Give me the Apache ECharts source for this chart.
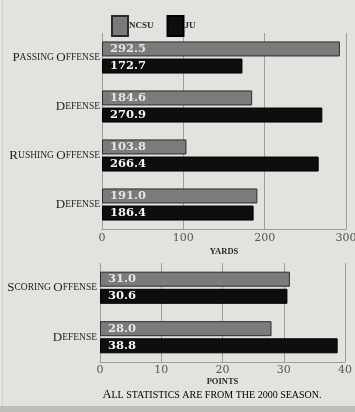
<!DOCTYPE html>
<html>
<head>
<meta charset="utf-8">
<script src="https://cdn.jsdelivr.net/npm/echarts@6/dist/echarts.min.js"></script>
<style>
  html, body { margin: 0; padding: 0; background: #e3e2de; }
  #chart { width: 355px; height: 412px; }
</style>
</head>
<body>
<div id="chart"></div>
<script>
// Team statistics, 2000 season
const teams = ['NCSU', 'JU'];

const yardCategories = ['Passing Offense', 'Defense', 'Rushing Offense', 'Defense'];
const yardsNCSU = [292.5, 184.6, 103.8, 191.0];
const yardsJU = [172.7, 270.9, 266.4, 186.4];
const yardTicks = [0, 100, 200, 300];

const pointCategories = ['Scoring Offense', 'Defense'];
const pointsNCSU = [31.0, 28.0];
const pointsJU = [30.6, 38.8];
const pointTicks = [0, 10, 20, 30, 40];

const footnote = 'All statistics are from the 2000 season.';

const SERIF = '"Liberation Serif", "DejaVu Serif", serif';
const WIDE_SERIF = '"DejaVu Serif", "Liberation Serif", serif';
const ncsuColor = '#7b7b7b';
const juColor = '#0e0e0e';
const gridColor = '#9e9d9a';

// Small-caps rendering: word initials large, remaining letters smaller capitals
function smallCaps(text) {
  return text.split(' ').map(function (w) {
    const head = w.charAt(0);
    const tail = w.slice(1);
    let out = '';
    if (/[A-Z]/.test(head)) out += '{big|' + head + '}';
    else out += '{sm|' + head.toUpperCase() + '}';
    if (tail) out += '{sm|' + tail.toUpperCase() + '}';
    return out;
  }).join('{sm| }');
}

const capRich = {
  big: { fontFamily: SERIF, fontSize: 13, color: '#1e1e1e' },
  sm: { fontFamily: SERIF, fontSize: 9.5, color: '#1e1e1e' }
};

const noteRich = {
  big: { fontFamily: SERIF, fontSize: 12.5, color: '#1e1e1e' },
  sm: { fontFamily: SERIF, fontSize: 10, color: '#1e1e1e' }
};

function valueLabel(color) {
  return {
    show: true,
    position: 'insideLeft',
    distance: 8,
    fontFamily: WIDE_SERIF,
    fontSize: 11.5,
    fontWeight: 'bold',
    color: color,
    formatter: function (p) { return p.value.toFixed(1); }
  };
}

function xAxisFor(gridIndex, ticks, name, nameGap, labelMargin) {
  return {
    type: 'value',
    gridIndex: gridIndex,
    min: ticks[0],
    max: ticks[ticks.length - 1],
    interval: ticks[1] - ticks[0],
    name: name,
    nameLocation: 'middle',
    nameGap: nameGap,
    nameTextStyle: { fontFamily: SERIF, fontSize: 8.5, fontWeight: 'bold', color: '#2a2a2a' },
    axisLine: { show: true, lineStyle: { color: gridColor, width: 1 } },
    axisTick: { show: false },
    axisLabel: { fontFamily: WIDE_SERIF, fontSize: 11, color: '#555', margin: labelMargin },
    splitLine: { show: true, lineStyle: { color: gridColor, width: 1 } }
  };
}

function yAxisFor(gridIndex, cats, margin) {
  return {
    type: 'category',
    gridIndex: gridIndex,
    data: cats,
    inverse: true,
    axisLine: { show: false },
    axisTick: { show: false },
    axisLabel: {
      margin: margin,
      formatter: function (v) { return smallCaps(v); },
      rich: capRich
    }
  };
}

function barSeries(name, data, axisIdx, color, border, labelColor) {
  return {
    name: name,
    type: 'bar',
    xAxisIndex: axisIdx,
    yAxisIndex: axisIdx,
    data: data,
    barWidth: 15,
    barGap: '14%',
    itemStyle: { color: color, borderColor: border, borderWidth: 1 },
    label: valueLabel(labelColor),
    silent: true
  };
}

const chart = echarts.init(document.getElementById('chart'), null, { renderer: 'canvas' });

chart.setOption({
  backgroundColor: '#e3e2de',
  animation: false,
  legend: {
    data: teams,
    left: 106,
    top: 10,
    itemWidth: 16,
    itemHeight: 20,
    itemGap: 13,
    icon: 'rect',
    selectedMode: false,
    textStyle: { fontFamily: SERIF, fontSize: 9, fontWeight: 'bold', color: '#2a2a2a', padding: [0, 0, 0, -4] }
  },
  grid: [
    { left: 102, right: 9, top: 33, height: 196, outerBoundsMode: 'none', containLabel: false },
    { left: 100, right: 10, top: 263, height: 99, outerBoundsMode: 'none', containLabel: false }
  ],
  xAxis: [
    xAxisFor(0, yardTicks, 'YARDS', 18, 4),
    xAxisFor(1, pointTicks, 'POINTS', 14, 3)
  ],
  yAxis: [
    yAxisFor(0, yardCategories, 2),
    yAxisFor(1, pointCategories, 3)
  ],
  series: [
    barSeries(teams[0], yardsNCSU, 0, ncsuColor, '#2b2b2b', '#e6e6e6'),
    barSeries(teams[1], yardsJU, 0, juColor, '#000', '#f4f4f4'),
    barSeries(teams[0], pointsNCSU, 1, ncsuColor, '#2b2b2b', '#e6e6e6'),
    barSeries(teams[1], pointsJU, 1, juColor, '#000', '#f4f4f4')
  ],
  graphic: [
    {
      type: 'text',
      x: 212,
      y: 395,
      style: {
        text: smallCaps(footnote),
        rich: noteRich,
        align: 'center',
        verticalAlign: 'middle'
      },
      silent: true
    },
    {
      type: 'rect',
      shape: { x: 0, y: 406, width: 355, height: 6 },
      style: { fill: '#bdbcb8' },
      silent: true
    },
    {
      type: 'rect',
      shape: { x: 2, y: 0, width: 1, height: 406 },
      style: { fill: '#cfcecb' },
      silent: true
    }
  ]
});
</script>
</body>
</html>
